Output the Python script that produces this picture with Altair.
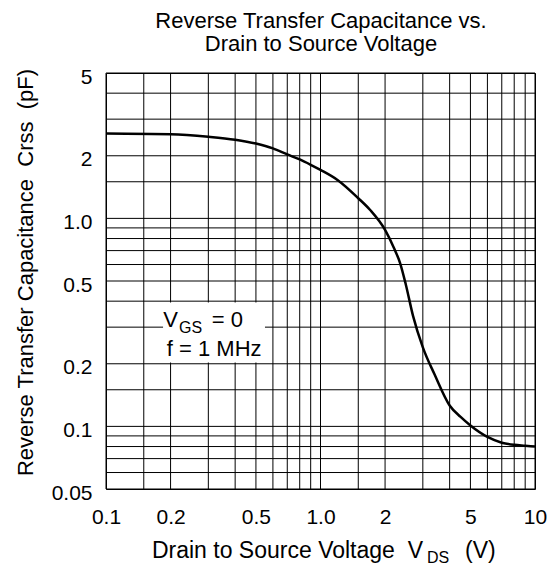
import altair as alt
import pandas as pd

# Curve data (V_DS in volts, Crss in pF)
vds = [0.1, 0.2, 0.3, 0.4, 0.5, 0.6, 0.7, 0.8, 0.9, 1.0, 1.2, 1.5, 1.7, 2.0,
       2.2, 2.35, 2.5, 2.7, 3.0, 3.4, 4.0, 4.5, 5.0, 6.0, 7.0, 8.0, 9.0, 10.0]
crss = [2.56, 2.54, 2.47, 2.39, 2.29, 2.17, 2.03, 1.92, 1.81, 1.71, 1.53, 1.25,
        1.10, 0.88, 0.72, 0.61, 0.48, 0.34, 0.24, 0.178, 0.126, 0.111, 0.101,
        0.089, 0.0835, 0.0815, 0.0807, 0.080]

x_grid = [0.1, 0.15, 0.2, 0.3, 0.4, 0.5, 0.6, 0.7, 0.8, 0.9, 1, 1.5, 2, 3, 4, 5,
          6, 7, 8, 9, 10]
y_grid = [0.05, 0.06, 0.07, 0.08, 0.09, 0.1, 0.15, 0.2, 0.3, 0.4, 0.5, 0.6, 0.7,
          0.8, 0.9, 1, 1.5, 2, 3, 4, 5]
x_labels = [0.1, 0.2, 0.5, 1, 2, 5, 10]
y_labels = [0.05, 0.1, 0.2, 0.5, 1, 2, 5]

FONT = "Liberation Sans"

xs = alt.Scale(type="log", domain=[0.1, 10], nice=False)
ys = alt.Scale(type="log", domain=[0.05, 5], nice=False)

label_expr = "datum.value == 1 ? '1.0' : toString(datum.value)"

x_axis = alt.Axis(
    values=x_labels, labelExpr=label_expr, grid=False, ticks=False, tickSize=0,
    domain=False, labelFontSize=21, labelPadding=17, labelColor="black",
    labelFont=FONT, labelOverlap=False, labelFlush=False, title=None)
y_axis = alt.Axis(
    values=y_labels, labelExpr=label_expr, grid=False, ticks=False, tickSize=0,
    domain=False, labelFontSize=21, labelPadding=14, labelOffset=4,
    labelColor="black", labelFont=FONT, labelOverlap=False, labelFlush=False,
    title="Reverse Transfer Capacitance\u00a0\u00a0Crss\u00a0\u00a0(pF)",
    titleX=-74, titleY=199, titleAngle=270, titleBaseline="alphabetic",
    titleAlign="center", titleFontSize=22, titleFontWeight="normal",
    titleColor="black", titleFont=FONT)

xgrid = alt.Chart(pd.DataFrame({"v": x_grid})).mark_rule(
    color="black", strokeWidth=1
).encode(x=alt.X("v:Q", scale=xs, axis=x_axis))

ygrid = alt.Chart(pd.DataFrame({"c": y_grid})).mark_rule(
    color="black", strokeWidth=1
).encode(y=alt.Y("c:Q", scale=ys, axis=y_axis))

curve = alt.Chart(pd.DataFrame({"vds": vds, "crss": crss})).mark_line(
    color="black", strokeWidth=2.5, interpolate="monotone", clip=True
).encode(
    x=alt.X("vds:Q", scale=xs, axis=x_axis),
    y=alt.Y("crss:Q", scale=ys, axis=y_axis),
)

# White background of the annotation
box = alt.Chart(pd.DataFrame({"x1": [0.1845], "x2": [0.551],
                              "y1": [0.394], "y2": [0.2028]})).mark_rect(
    color="white"
).encode(
    x=alt.X("x1:Q", scale=xs, axis=x_axis), x2="x2:Q",
    y=alt.Y("y1:Q", scale=ys, axis=y_axis), y2="y2:Q",
)

ann = pd.DataFrame({
    "x": [0.185, 0.2189, 0.311, 0.192],
    "y": [0.3, 0.2803, 0.3, 0.218],
    "t": ["V", "GS", "= 0", "f = 1 MHz"],
    "fs": [22, 16, 22, 22],
})
ann_text = alt.Chart(ann).mark_text(
    align="left", baseline="alphabetic", font=FONT, color="black"
).encode(
    x=alt.X("x:Q", scale=xs, axis=x_axis), y=alt.Y("y:Q", scale=ys, axis=y_axis),
    text="t:N", size=alt.Size("fs:Q", scale=None),
)


def label(text, x, y, fs, align="center"):
    return alt.Chart(pd.DataFrame({"t": [text]})).mark_text(
        align=align, baseline="alphabetic", font=FONT, fontSize=fs, color="black",
    ).encode(x=alt.value(x), y=alt.value(y), text="t:N")


title1 = label("Reverse Transfer Capacitance vs.", 215, -45, 22)
title2 = label("Drain to Source Voltage", 215, -22, 22)
xt1 = label("Drain to Source Voltage\u00a0\u00a0V", 317, 485, 23, align="right")
xt2 = label("DS", 321, 490, 16, align="left")
xt3 = label("(V)", 359, 485, 23, align="left")

chart = alt.layer(
    xgrid, ygrid, curve, box, ann_text, title1, title2, xt1, xt2, xt3
).properties(
    width=429, height=416,
    autosize=alt.AutoSizeParams(type="none"),
    padding={"left": 98, "top": 65, "right": 12, "bottom": 76},
    background="white",
).configure_view(stroke="black", strokeWidth=1)

chart.save("out.html", embed_options={"renderer": "svg", "actions": False})
